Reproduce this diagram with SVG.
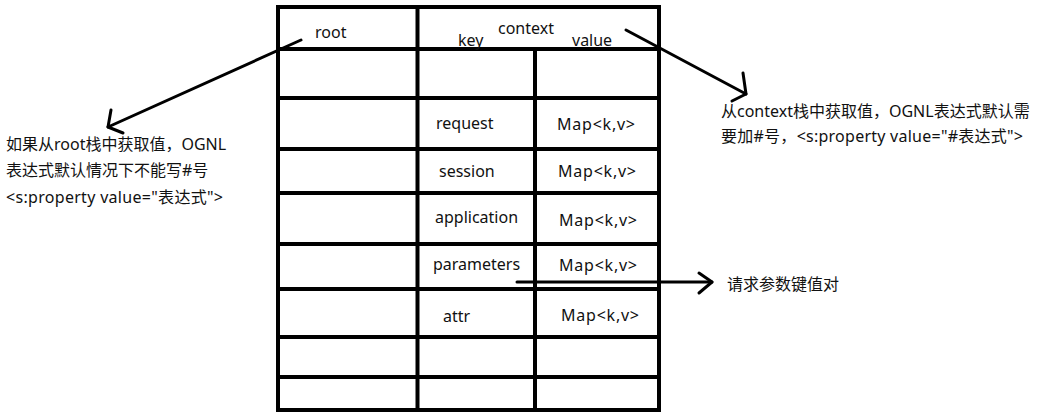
<svg xmlns="http://www.w3.org/2000/svg" width="1037" height="416" viewBox="0 0 1037 416">
<style>
.grid{stroke:#000;stroke-width:4;fill:none}
.t{font-family:"Noto Sans","Noto Sans CJK SC",sans-serif;font-size:16px;fill:#111}
.c{stroke:#000;stroke-width:3;fill:none;stroke-linecap:round;stroke-linejoin:round}
</style>
<rect width="1037" height="416" fill="#fff"/>
<g id="table">
<rect class="grid" x="278" y="7" width="381" height="403"/>
<line class="grid" x1="417.5" y1="7" x2="417.5" y2="410"/>
<line class="grid" x1="535" y1="49" x2="535" y2="410"/>
<line class="grid" x1="278" y1="49" x2="659" y2="49"/>
<line class="grid" x1="278" y1="98" x2="659" y2="98"/>
<line class="grid" x1="278" y1="149" x2="659" y2="149"/>
<line class="grid" x1="278" y1="193" x2="659" y2="193"/>
<line class="grid" x1="278" y1="244" x2="659" y2="244"/>
<line class="grid" x1="278" y1="289" x2="659" y2="289"/>
<line class="grid" x1="278" y1="337" x2="659" y2="337"/>
<line class="grid" x1="278" y1="377" x2="659" y2="377"/>
</g>
<g id="headers">
<text class="t" x="315" y="38">root</text>
<text class="t" x="498" y="34">context</text>
<text class="t" x="458" y="46">key</text>
<text class="t" x="572" y="46">value</text>
</g>
<g id="row-request">
<text class="t" x="436" y="129">request</text>
<text class="t" x="557" y="130" textLength="78" lengthAdjust="spacing">Map&lt;k,v&gt;</text>
</g>
<g id="row-session">
<text class="t" x="439" y="177">session</text>
<text class="t" x="558" y="177" textLength="78" lengthAdjust="spacing">Map&lt;k,v&gt;</text>
</g>
<g id="row-application">
<text class="t" x="435" y="223">application</text>
<text class="t" x="559" y="226" textLength="78" lengthAdjust="spacing">Map&lt;k,v&gt;</text>
</g>
<g id="row-parameters">
<text class="t" x="433" y="270">parameters</text>
<text class="t" x="559" y="271" textLength="78" lengthAdjust="spacing">Map&lt;k,v&gt;</text>
</g>
<g id="row-attr">
<text class="t" x="443" y="322">attr</text>
<text class="t" x="561" y="321" textLength="78" lengthAdjust="spacing">Map&lt;k,v&gt;</text>
</g>
<g id="root-note">
<text class="t" x="6" y="150">如果从root栈中获取值，OGNL</text>
<text class="t" x="6" y="176">表达式默认情况下不能写#号</text>
<text class="t" x="6" y="203" textLength="217" lengthAdjust="spacing">&lt;s:property value="表达式"&gt;</text>
</g>
<g id="context-note">
<text class="t" x="721" y="117">从context栈中获取值，OGNL表达式默认需</text>
<text class="t" x="721" y="142" textLength="302" lengthAdjust="spacing">要加#号，&lt;s:property value="#表达式"&gt;</text>
</g>
<g id="params-note">
<text class="t" x="727" y="290">请求参数键值对</text>
</g>
<g id="connectors">
<line class="c" x1="301" y1="40" x2="108" y2="127"/>
<polyline class="c" points="111,110 108,127 123,133"/>
<line class="c" x1="626" y1="30" x2="746" y2="94"/>
<polyline class="c" points="743,73 746,94 732,101"/>
<line class="c" x1="517" y1="282" x2="712" y2="282"/>
<polyline class="c" points="699,273 712,282 699,293"/>
</g>
</svg>
